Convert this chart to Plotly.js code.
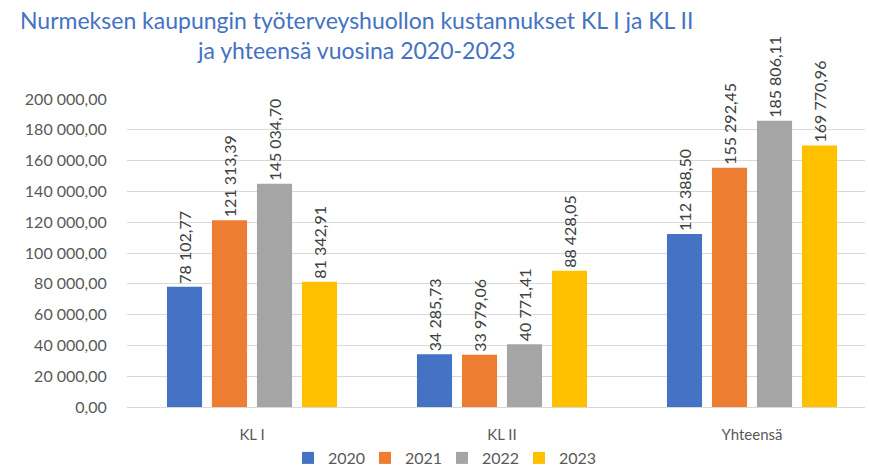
<!DOCTYPE html>
<html><head><meta charset="utf-8">
<script src="https://cdn.plot.ly/plotly-3.0.1.min.js"></script>
<style>html,body{margin:0;padding:0;background:#fff}#chart{width:869px;height:472px}</style>
</head><body><div id="chart"></div>
<script>
const categories = ["KL I", "KL II", "Yhteensä"];
const years = ["2020", "2021", "2022", "2023"];
const v2020 = [78102.77, 34285.73, 112388.50];
const v2021 = [121313.39, 33979.06, 155292.45];
const v2022 = [145034.70, 40771.41, 185806.11];
const v2023 = [81342.91, 88428.05, 169770.96];
const colors = ["#4472C4", "#ED7D31", "#A5A5A5", "#FFC000"];
const series = [v2020, v2021, v2022, v2023];
const yTicks = [0, 20000, 40000, 60000, 80000, 100000, 120000, 140000, 160000, 180000, 200000];
const titleLines = ["Nurmeksen kaupungin työterveyshuollon kustannukset KL I ja KL II", "ja yhteensä vuosina 2020-2023"];

const FONT = "Lato, 'Open Sans', sans-serif";
const traces = series.map((vals, i) => ({
  type: "bar",
  name: years[i],
  x: categories,
  y: vals,
  marker: {color: colors[i]},
  texttemplate: "%{y:,.2f}",
  textposition: "outside",
  textangle: -90,
  constraintext: "none",
  cliponaxis: false,
  textfont: {family: FONT, size: 16, color: "#404040"},
  hoverinfo: "none"
}));

const titleY = [20, 50];
const layout = {
  width: 869, height: 472,
  margin: {l: 127, r: 4, t: 99, b: 65, autoexpand: false},
  paper_bgcolor: "#fff", plot_bgcolor: "#fff",
  separators: ", ",
  font: {family: FONT, color: "#595959"},
  annotations: titleLines.map((t, i) => ({
    text: t,
    xref: "paper", yref: "paper",
    x: (356 - 127) / 738, xanchor: "center",
    y: (407 - titleY[i]) / 308, yanchor: "middle",
    showarrow: false, align: "center",
    font: {family: FONT, size: 23, color: "#4472C4"}
  })),
  barmode: "group",
  bargap: 0.28,
  bargroupgap: 0.22,
  xaxis: {
    type: "category",
    range: [-0.5, 2.452],
    showgrid: false,
    showline: true, linecolor: "#d9d9d9", linewidth: 1,
    ticks: "outside", ticklen: 14, tickcolor: "rgba(0,0,0,0)",
    tickfont: {family: FONT, size: 15, color: "#595959"},
    fixedrange: true
  },
  yaxis: {
    range: [0, 200000],
    tickvals: yTicks,
    tickformat: ",.2f",
    showgrid: true, gridcolor: "#d9d9d9", gridwidth: 1,
    zeroline: false, showline: false,
    ticks: "outside", ticklen: 16, tickcolor: "rgba(0,0,0,0)",
    tickfont: {family: FONT, size: 16, color: "#595959"},
    fixedrange: true
  },
  showlegend: true,
  legend: {
    orientation: "h",
    x: (442 - 127) / 738, xref: "paper", xanchor: "center",
    y: (407 - 458) / 308, yref: "paper", yanchor: "middle",
    bgcolor: "rgba(0,0,0,0)",
    font: {family: FONT, size: 16, color: "#595959"},
    itemwidth: 30,
    entrywidth: 32, entrywidthmode: "pixels",
    traceorder: "normal"
  }
};

Plotly.newPlot("chart", traces, layout, {displayModeBar: false, staticPlot: true});
</script>
</body></html>
